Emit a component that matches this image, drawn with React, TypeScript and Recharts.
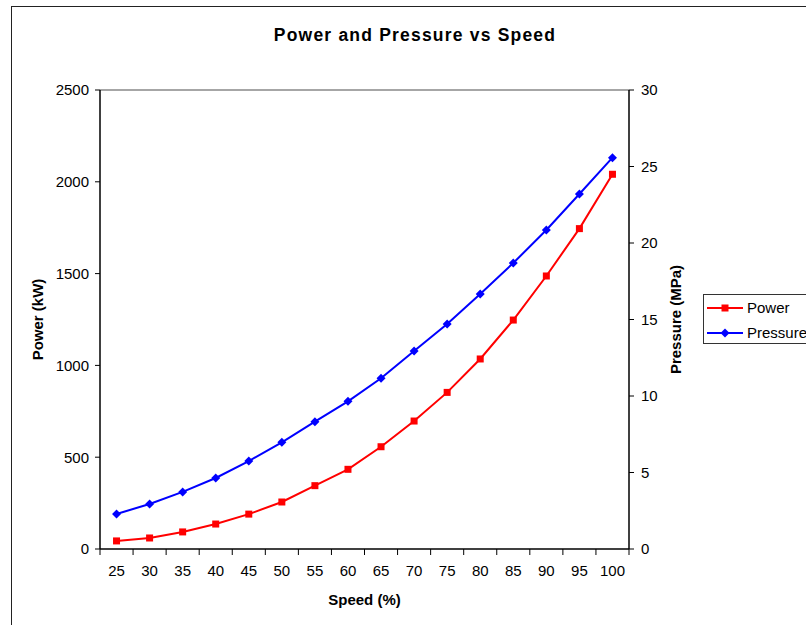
import React from "react"
import {
  LineChart,
  Line,
  XAxis,
  YAxis,
  ReferenceLine,
} from "recharts"

const speeds = [25, 30, 35, 40, 45, 50, 55, 60, 65, 70, 75, 80, 85, 90, 95, 100]
const power = [44, 60, 93, 136, 190, 256, 345, 434, 557, 697, 853, 1035, 1247, 1487, 1745, 2041]
const pressure = [2.29, 2.94, 3.73, 4.64, 5.75, 6.97, 8.32, 9.65, 11.16, 12.94, 14.71, 16.67, 18.69, 20.85, 23.2, 25.58]
const powerTicks = [0, 500, 1000, 1500, 2000, 2500]
const pressureTicks = [0, 5, 10, 15, 20, 25, 30]

const seriesNames = { power: "Power", pressure: "Pressure" }

const data = speeds.map((s, i) => ({ speed: s, power: power[i], pressure: pressure[i] }))

const FONT = "'Liberation Sans', Arial, sans-serif"
const W = 806
const H = 625
const MARGIN = { top: 90, right: 87, bottom: 16, left: 10 }
const AXIS_W = 90
const XAXIS_H = 60
const PLOT_W = W - MARGIN.left - MARGIN.right - AXIS_W * 2
const PLOT_BOTTOM = H - MARGIN.bottom - XAXIS_H
const HALF_BAND = PLOT_W / speeds.length / 2

const RED = "#FF0000"
const BLUE = "#0000FF"

function squareDot(props: any) {
  const { cx, cy, index } = props
  if (cx == null || cy == null) return <g key={`s${index}`} />
  return <rect key={`s${index}`} x={cx - 3.5} y={cy - 3.5} width={7} height={7} fill={RED} />
}

function diamondDot(props: any) {
  const { cx, cy, index } = props
  if (cx == null || cy == null) return <g key={`d${index}`} />
  return (
    <polygon
      key={`d${index}`}
      points={`${cx},${cy - 4.5} ${cx + 4.5},${cy} ${cx},${cy + 4.5} ${cx - 4.5},${cy}`}
      fill={BLUE}
    />
  )
}

// ticks sit between categories, like the spreadsheet original
function SpeedTick(props: any) {
  const { x, y, payload, index } = props
  const last = index === speeds.length - 1
  return (
    <g>
      <line x1={x - HALF_BAND} x2={x - HALF_BAND} y1={PLOT_BOTTOM} y2={PLOT_BOTTOM + 6} stroke="#000" />
      {last && (
        <line x1={x + HALF_BAND} x2={x + HALF_BAND} y1={PLOT_BOTTOM} y2={PLOT_BOTTOM + 6} stroke="#000" />
      )}
      <text x={x} y={y} dy="0.71em" textAnchor="middle" fill="#000" fontSize={15} fontFamily={FONT}>
        {payload.value}
      </text>
    </g>
  )
}

function LegendItem({ color, label, marker }: { color: string; label: string; marker: "square" | "diamond" }) {
  return (
    <div style={{ display: "flex", alignItems: "center", height: 25 }}>
      <svg width={40} height={12} style={{ marginRight: 3 }}>
        <line x1={3} x2={39} y1={6} y2={6} stroke={color} strokeWidth={2} />
        {marker === "square" ? (
          <rect x={17.5} y={2.5} width={7} height={7} fill={color} />
        ) : (
          <polygon points="21,1.5 25.5,6 21,10.5 16.5,6" fill={color} />
        )}
      </svg>
      <span style={{ fontSize: 15, fontFamily: FONT, color: "#000" }}>{label}</span>
    </div>
  )
}

export default function App() {
  return (
    <div style={{ position: "absolute", left: 0, top: 0, width: W, height: H, overflow: "hidden", background: "#fff" }}>
      <div
        style={{
          position: "absolute",
          left: 11,
          top: 6,
          width: 830,
          height: 660,
          border: "1px solid #222",
        }}
      />
      <div
        style={{
          position: "absolute",
          left: 0,
          top: 25,
          width: 830,
          textAlign: "center",
          fontFamily: FONT,
          fontWeight: "bold",
          fontSize: 17.5,
          letterSpacing: 1.2,
          color: "#000",
        }}
      >
        Power and Pressure vs Speed
      </div>
      <div style={{ position: "absolute", left: 0, top: 0 }}>
        <LineChart width={W} height={H} data={data} margin={MARGIN}>
          <XAxis
            dataKey="speed"
            height={XAXIS_H}
            padding={{ left: HALF_BAND, right: HALF_BAND }}
            axisLine={{ stroke: "#000", strokeWidth: 1.5 }}
            tickLine={false}
            tickSize={6}
            tickMargin={10}
            tick={<SpeedTick />}
            interval={0}
            label={{
              value: "Speed (%)",
              position: "insideBottom",
              offset: 4,
              style: { fontFamily: FONT, fontWeight: "bold", fontSize: 15, fill: "#000" },
            }}
          />
          <YAxis
            yAxisId="left"
            width={AXIS_W}
            domain={[0, 2500]}
            ticks={powerTicks}
            interval={0}
            axisLine={{ stroke: "#000", strokeWidth: 1.5 }}
            tickLine={{ stroke: "#000" }}
            tickSize={5}
            tickMargin={6}
            tick={{ fill: "#000", fontSize: 15, fontFamily: FONT }}
            label={{
              value: "Power (kW)",
              angle: -90,
              position: "insideLeft",
              offset: 28,
              style: { textAnchor: "middle", fontFamily: FONT, fontWeight: "bold", fontSize: 15, fill: "#000" },
            }}
          />
          <YAxis
            yAxisId="right"
            orientation="right"
            width={AXIS_W}
            domain={[0, 30]}
            ticks={pressureTicks}
            interval={0}
            axisLine={{ stroke: "#000", strokeWidth: 1.5 }}
            tickLine={{ stroke: "#000" }}
            tickSize={5}
            tickMargin={7}
            tick={{ fill: "#000", fontSize: 15, fontFamily: FONT }}
            label={{
              value: "Pressure (MPa)",
              angle: -90,
              position: "insideLeft",
              offset: 47,
              style: { textAnchor: "middle", fontFamily: FONT, fontWeight: "bold", fontSize: 15, fill: "#000" },
            }}
          />
          <ReferenceLine yAxisId="left" y={2500} stroke="#888" strokeWidth={1.5} />
          <Line
            yAxisId="left"
            dataKey="power"
            name={seriesNames.power}
            type="linear"
            stroke={RED}
            strokeWidth={2}
            dot={squareDot}
            activeDot={false}
            isAnimationActive={false}
          />
          <Line
            yAxisId="right"
            dataKey="pressure"
            name={seriesNames.pressure}
            type="linear"
            stroke={BLUE}
            strokeWidth={2}
            dot={diamondDot}
            activeDot={false}
            isAnimationActive={false}
          />
        </LineChart>
      </div>
      <div
        style={{
          position: "absolute",
          left: 703,
          top: 294,
          width: 130,
          height: 50,
          border: "1px solid #333",
          background: "#fff",
          boxSizing: "border-box",
        }}
      >
        <LegendItem color={RED} label={seriesNames.power} marker="square" />
        <LegendItem color={BLUE} label={seriesNames.pressure} marker="diamond" />
      </div>
    </div>
  )
}
